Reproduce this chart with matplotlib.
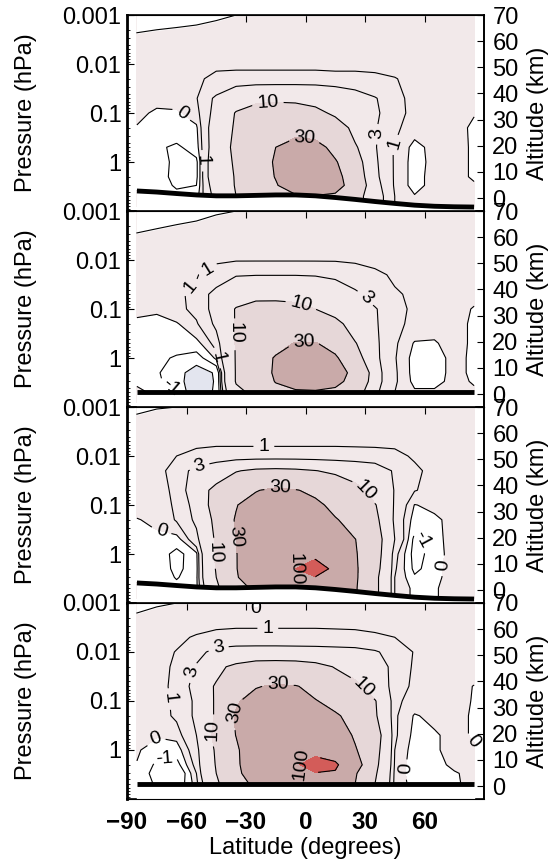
import numpy as np
import matplotlib.pyplot as plt

plt.rcParams['font.family'] = ['Liberation Sans', 'DejaVu Sans']
plt.rcParams['font.size'] = 17
plt.rcParams['xtick.direction'] = 'in'
plt.rcParams['ytick.direction'] = 'in'
plt.rcParams['axes.unicode_minus'] = True

# grid of the model output
lats = [-85, -75, -65, -55, -45, -35, -25, -15, -5, 5, 15, 25, 35, 45, 55, 65, 75, 85]
pres = [0.001, 0.002, 0.005, 0.01, 0.02, 0.05, 0.1, 0.2, 0.5, 1, 2, 3, 5, 8]

# panel 1
field1 = [
    [0.5]*18,
    [0.5]*18,
    [0.5, 0.5, 0.6, 0.6, 0.6, 0.6, 0.6, 0.6, 0.6, 0.6, 0.6, 0.6, 0.6, 0.6, 0.6, 0.6, 0.5, 0.5],
    [0.5, 0.5, 0.5, 0.6, 0.8, 0.8, 0.8, 0.8, 0.8, 0.8, 0.8, 0.8, 0.8, 0.7, 0.6, 0.5, 0.5, 0.5],
    [0.4, 0.4, 0.5, 0.8, 1.3, 1.4, 1.4, 1.4, 1.4, 1.4, 1.3, 1.3, 1.2, 1.05, 0.7, 0.5, 0.5, 0.4],
    [0.3, 0.3, 0.5, 0.9, 3.5, 7, 8.7, 9, 9, 8.5, 7, 5, 3.2, 1.4, 0.6, 0.5, 0.5, 0.4],
    [0.3, -0.2, -0.2, 0.5, 4, 10.5, 13, 14, 13, 11.5, 9, 6, 3.5, 1.5, 0.6, 0.5, 0.4, 0.05],
    [-0.1, -0.5, -0.5, -0.2, 5, 11, 17, 22, 25, 24, 14, 8, 3.2, 1.3, 0.3, 0.3, 0.4, -0.2],
    [-0.5, -0.8, -1.2, -0.5, 5, 12, 20, 30, 38, 36, 25, 11, 3.2, 0.8, -0.3, 0.3, 0.5, -0.2],
    [-0.4, -0.3, -1.4, -1.3, 6, 11, 20, 32, 50, 48, 32, 14, 3.4, 0.8, -0.4, 0.3, 0.5, -0.2],
    [-0.3, -0.3, -1.5, -1.3, 6, 10.5, 18, 31, 55, 55, 38, 16, 3.6, 0.8, -0.4, 0.4, 0.5, -0.2],
    [-0.2, -0.3, -1.2, -1.0, 5, 10.5, 17, 28, 45, 50, 40, 18, 4, 0.8, -0.4, 0.4, 0.5, 0.2],
    [0.3, 0.2, -0.5, -0.5, 4, 10, 15, 20, 26, 28, 25, 14, 4.5, 1, 0.1, 0.4, 0.5, 0.3],
    [0.3, 0.2, -0.5, -0.5, 4, 10, 15, 20, 26, 28, 25, 14, 4.5, 1, 0.1, 0.4, 0.5, 0.3],
]

# panel 2
field2 = [
    [0.5]*18,
    [0.5]*18,
    [0.5, 0.5, 0.6, 0.6, 0.6, 0.6, 0.6, 0.6, 0.6, 0.6, 0.6, 0.6, 0.6, 0.6, 0.6, 0.6, 0.5, 0.5],
    [0.6, 0.6, 0.6, 0.7, 0.8, 0.9, 0.9, 0.9, 0.9, 0.9, 0.9, 0.8, 0.7, 0.7, 0.6, 0.6, 0.6, 0.6],
    [0.5, 0.5, 0.6, 0.9, 1.8, 2.8, 2.9, 2.9, 2.9, 2.8, 2.5, 2.0, 1.3, 0.8, 0.6, 0.5, 0.5, 0.5],
    [0.5, 0.5, 0.7, 1.4, 4, 7, 8.2, 8.3, 8.3, 7.5, 5.5, 3.5, 2.2, 1.2, 0.7, 0.5, 0.5, 0.3],
    [0.3, 0.2, 0.6, 1.4, 4, 10.5, 13, 13, 12, 10, 8, 5.5, 3.2, 1.5, 0.7, 0.5, 0.5, -0.1],
    [-0.3, -0.5, -0.1, 0.8, 3.5, 10.5, 15, 18, 19, 17, 12, 7, 3.3, 1.4, 0.6, 0.3, 0.4, -0.2],
    [-0.4, -0.7, -0.7, -0.4, 1.5, 10.5, 17, 24, 31, 31, 24, 10.5, 3.5, 1.2, -0.1, -0.1, 0.4, -0.2],
    [-0.4, -0.8, -1.1, -1.6, 0.2, 10.5, 18, 32, 40, 42, 33, 14, 3.6, 1.1, -0.4, -0.4, 0.3, -0.2],
    [-0.3, -0.9, -1.5, -5, -2.5, 10.5, 18, 33, 45, 48, 38, 25, 4, 1.2, -0.4, -0.4, 0.3, -0.2],
    [-0.2, -0.8, -1.5, -5.5, -2.6, 10.5, 17, 31, 42, 45, 36, 22, 4, 1.2, -0.3, -0.3, 0.3, -0.1],
    [0.3, -0.3, -1, -5, -2.5, 8, 12, 22, 25, 26, 24, 15, 3.5, 1, 0.2, 0.2, 0.3, 0.2],
    [0.3, -0.3, -1, -5, -2.5, 8, 12, 22, 25, 26, 24, 15, 3.5, 1, 0.2, 0.2, 0.3, 0.2],
]

# panel 3
field3 = [
    [0.5]*18,
    [0.5, 0.5, 0.6, 0.6, 0.6, 0.6, 0.6, 0.6, 0.6, 0.6, 0.6, 0.6, 0.6, 0.6, 0.6, 0.6, 0.5, 0.5],
    [0.5, 0.5, 0.7, 0.8, 0.85, 0.85, 0.85, 0.85, 0.85, 0.85, 0.85, 0.85, 0.85, 0.85, 0.8, 0.6, 0.5, 0.5],
    [0.5, 0.6, 1.0, 1.3, 1.4, 1.4, 1.4, 1.4, 1.4, 1.4, 1.4, 1.35, 1.3, 1.2, 0.9, 0.6, 0.5, 0.5],
    [0.5, 0.6, 1.5, 4, 6, 9.5, 11.5, 12, 11.5, 10.2, 8.5, 7, 5.5, 2.5, 1.2, 0.7, 0.6, 0.5],
    [0.5, 0.5, 1.3, 5, 13, 22, 29, 34, 31, 26, 20, 13, 7, 2.8, 1.05, 0.7, 0.6, 0.5],
    [0.3, 0.4, 1.2, 4, 14, 29, 40, 45, 42, 35, 24, 16, 10.5, 2.5, -0.05, 0.3, 0.5, 0.4],
    [-0.05, 0.2, 1.1, 3.5, 12, 32, 45, 50, 48, 42, 32, 20, 12, 2.2, -0.5, -0.3, 0.5, 0.4],
    [-0.3, -0.3, -0.5, 2, 11, 30, 45, 55, 60, 55, 40, 30.5, 14, 3, -1.4, -0.4, 0.5, 0.4],
    [-0.3, -0.3, -1.4, -0.3, 11, 29, 50, 62, 80, 92, 60, 32, 14, 1.5, -1.5, -0.5, 0.5, 0.4],
    [-0.3, -0.3, -1.3, -0.4, 10.5, 29, 48, 60, 100, 120, 90, 33, 13, 1.2, -1.3, -0.4, 0.5, 0.4],
    [-0.2, -0.2, -1.1, -0.3, 10, 28, 45, 55, 80, 98, 70, 33, 12, 1, -0.8, -0.3, 0.5, 0.4],
    [0.3, 0.2, -0.5, -0.3, 8, 20, 35, 40, 45, 50, 45, 32, 12, 1, -0.3, -0.1, 0.4, 0.4],
    [0.3, 0.2, -0.5, -0.3, 8, 20, 35, 40, 45, 50, 45, 32, 12, 1, -0.3, -0.1, 0.4, 0.4],
]

# panel 4
field4 = [
    [0.5, 0.5, 0.5, 0.5, 0.5, 0.5, -0.3, 0.5, 0.5, 0.5, 0.5, 0.5, 0.5, 0.5, 0.5, 0.5, 0.5, 0.5],
    [0.5, 0.6, 0.6, 0.6, 0.7, 0.7, 0.7, 0.7, 0.7, 0.7, 0.7, 0.7, 0.6, 0.6, 0.6, 0.6, 0.5, 0.5],
    [0.5, 0.6, 0.8, 1.1, 1.3, 1.4, 1.4, 1.4, 1.4, 1.4, 1.35, 1.3, 1.2, 1.0, 0.8, 0.6, 0.5, 0.5],
    [0.5, 0.6, 1.05, 2.0, 4, 4.5, 4.6, 4.6, 4.5, 4.4, 4.2, 4, 3.3, 2, 0.9, 0.6, 0.5, 0.5],
    [0.5, 0.6, 1.2, 3.4, 8, 12, 15, 15.5, 15, 13, 9.5, 7.5, 5, 2, 0.8, 0.6, 0.5, 0.5],
    [0.5, 0.6, 1.3, 4, 11, 22, 29, 32, 31, 25, 18, 12, 6.5, 1.5, 0.8, 0.6, 0.5, -0.05],
    [0.3, 0.6, 1.2, 3.5, 11, 28, 38, 42, 40, 31, 24, 17, 10.5, 1.3, 0.5, 0.5, 0.5, -0.1],
    [0.3, 0.5, 1.2, 3.5, 11, 32, 45, 52, 50, 42, 33, 22, 11, 1.2, -0.1, 0.3, 0.5, -0.2],
    [0.3, 0.1, 0.3, 3, 12, 30.5, 50, 60, 62, 55, 40, 28, 14, 1.2, -0.3, -0.2, 0.5, -0.2],
    [0.2, -0.8, -0.6, 2, 11, 25, 55, 68, 78, 90, 70, 32, 13, 1, -0.5, -0.2, 0.5, 0.3],
    [-0.1, -1.2, -1.5, 1.5, 10.5, 25, 50, 65, 95, 118, 112, 40, 12, 0.8, -0.6, -0.3, 0.2, 0.3],
    [-0.2, -1.5, -2.5, 1, 10, 24, 45, 60, 80, 98, 92, 32, 11, 0.6, -0.5, -0.2, -0.1, 0.3],
    [-0.1, -1.2, -2, 0.5, 8, 20, 35, 40, 45, 50, 45, 30, 10, 0.5, -0.3, -0.1, -0.1, 0.2],
    [-0.1, -1.2, -2, 0.5, 8, 20, 35, 40, 45, 50, 45, 30, 10, 0.5, -0.3, -0.1, -0.1, 0.2],
]

# surface pressure (hPa) and model top (hPa) per latitude
psurf_topo = [3.9, 4.1, 4.4, 4.7, 4.9, 4.9, 4.8, 4.7, 4.7, 4.9, 5.3, 5.8, 6.4, 7.0, 7.6, 8.0, 8.2, 8.3]
psurf_flat = [4.9]*18
ptop1 = [0.0023, 0.002, 0.0018, 0.0016, 0.0013] + [0.001]*13
ptop2 = [0.0028, 0.0023, 0.0019, 0.0016, 0.0012] + [0.001]*13
ptop3 = [0.0014, 0.0011] + [0.001]*16
ptop4 = [0.0016, 0.0012] + [0.001]*16

# where the contour labels sit (lat, hPa)
labels1 = [(-62, 0.095), (-19, 0.063), (-1, 0.45), (35, 0.26), (44, 0.41), (-51, 0.9)]
labels2 = [(-49, 0.016), (-56, 0.041), (-2, 0.075), (30, 0.06), (-36, 0.31),
           (-44, 0.95), (-1, 0.54), (-66, 3.1)]
labels3 = [(-21, 0.0075), (-53, 0.021), (-72, 0.26), (-13, 0.055), (-36, 0.45),
           (-46, 0.95), (29, 0.055), (-6, 1.8), (60, 0.5), (68, 1.7)]
labels4 = [(-24, 0.0016), (-19, 0.0035), (-44, 0.0079), (-58, 0.025), (-64, 0.083),
           (-14, 0.055), (-34, 0.18), (-46, 0.39), (29, 0.052), (-75, 0.62),
           (-71, 1.8), (-4, 1.45), (58, 2.5), (84, 0.7)]

fill_levels = [-1000, -3, 0, 10, 30, 100, 1000]
fill_colors = ['#e3e5ef', '#ffffff', '#f2e9ea', '#e6d7d8', '#c9aaa9', '#d35c59']
line_levels = [-10, -3, -1, 0, 1, 3, 10, 30, 100]

panels = [(field1, psurf_topo, ptop1, labels1), (field2, psurf_flat, ptop2, labels2),
          (field3, psurf_topo, ptop3, labels3), (field4, psurf_flat, ptop4, labels4)]

fig = plt.figure(figsize=(5.58, 8.68), dpi=100)
bottoms = [0.7569, 0.5311, 0.3053, 0.0795]

for i, (field, psurf, ptop, lab) in enumerate(panels):
    ax = fig.add_axes([0.2276, bottoms[i], 0.6398, 0.2258])
    ax.set_yscale('log')
    ax.set_ylim(10, 0.001)
    ax.set_xlim(-90, 90)
    Z = np.array(field)
    ax.contourf(lats, pres, Z, levels=fill_levels, colors=fill_colors)
    cs = ax.contour(lats, pres, Z, levels=line_levels, colors='k',
                    linewidths=0.8, linestyles='solid')
    ax.clabel(cs, fmt=lambda v: f'{v:g}', fontsize=14, inline=True, manual=lab)
    # below surface and above model top: no data
    ax.fill_between(lats, psurf, 20, color='white', zorder=3)
    ax.plot(lats, psurf, color='k', lw=3.5, zorder=4, solid_capstyle='butt')
    ax.fill_between(lats, 0.0005, ptop, color='white', zorder=3)
    ax.plot(lats, ptop, color='k', lw=0.8, zorder=4)

    ax.set_yticks([0.001, 0.01, 0.1, 1])
    ax.set_yticklabels(['0.001', '0.01', '0.1', '1'])
    ax.set_xticks([-90, -60, -30, 0, 30, 60])
    ax.tick_params(top=True, length=5, pad=4)
    ax.tick_params(which='minor', length=2.5)
    ax.set_ylabel('Pressure (hPa)', labelpad=18)
    ax.spines['left'].set_linewidth(2)
    for s in ['top', 'right', 'bottom']:
        ax.spines[s].set_linewidth(1.2)
    if i == 3:
        ax.set_xticklabels(['\u221290', '\u221260', '\u221230', '0', '30', '60'],
                           fontsize=17.5, fontweight='bold')
        ax.tick_params(axis='x', pad=9)
        ax.set_xlabel('Latitude (degrees)', labelpad=2)
    else:
        ax.set_xticklabels([])

    ax2 = ax.twinx()
    ax2.set_ylim(-4.97, 70)
    ax2.set_yticks(range(0, 71, 10))
    ax2.tick_params(length=5, pad=6)
    ax2.set_ylabel('Altitude (km)', labelpad=6)
    ax2.spines['right'].set_linewidth(1.2)

fig.savefig('out.png', dpi=100)
